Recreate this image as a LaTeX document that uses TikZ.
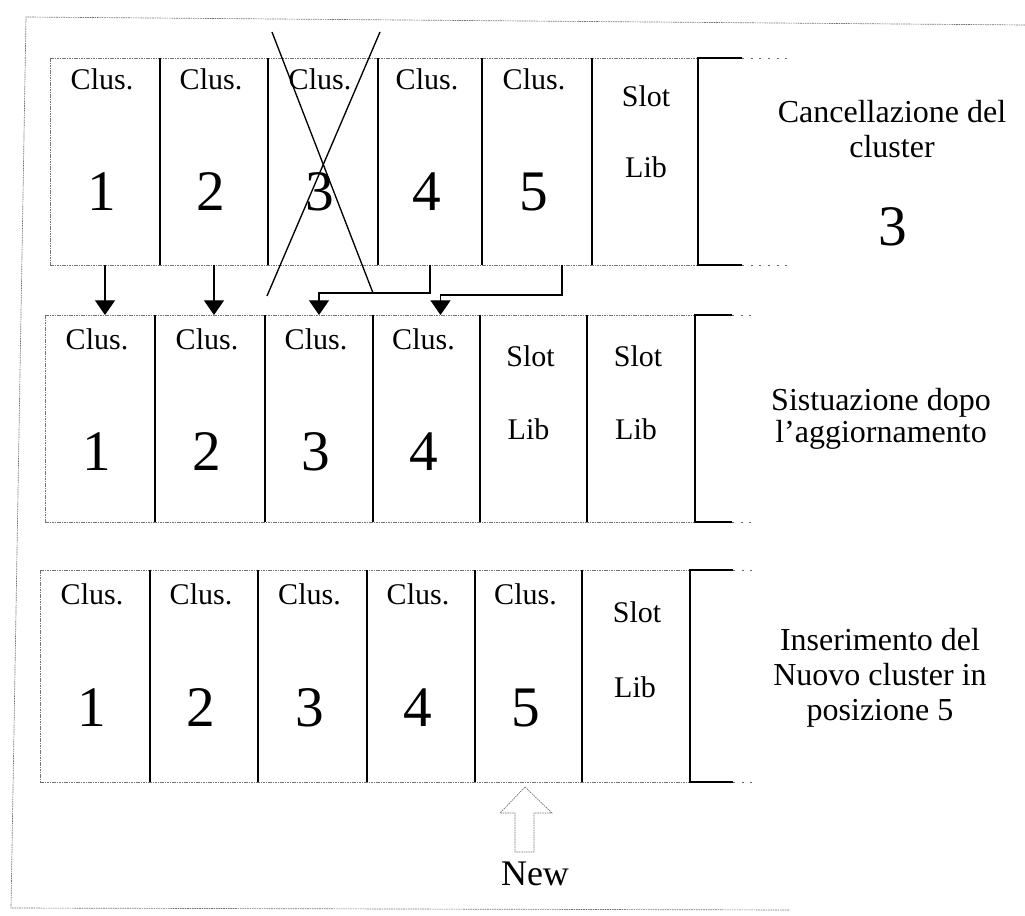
\documentclass[tikz,border=0pt]{standalone}
\usepackage{fontspec}
\setmainfont{Liberation Serif}
\usetikzlibrary{arrows.meta,calc,fit}
\begin{document}
\begin{tikzpicture}[x=0.75pt,y=-0.75pt,
  thindot/.style={draw=black!55, line width=0.5pt, dash pattern=on 1.2pt off 0.6pt},
  sparsedot/.style={draw=black!60, line width=0.6pt, dash pattern=on 1.5pt off 5pt},
  divider/.style={draw=black, line width=1pt},
  bracket/.style={draw=black, line width=0.8pt},
  cellbox/.style={inner sep=0pt, outer sep=0pt, draw=none},
  cltext/.style={font=\fontsize{22.5}{26}\selectfont, inner sep=0pt},
  bigtext/.style={font=\fontsize{43}{48}\selectfont, inner sep=0pt},
  labtext/.style={font=\fontsize{24}{28}\selectfont, inner sep=0pt, anchor=base},
  link/.style={draw=black, line width=1pt, -{Triangle[width=15pt,length=11pt]}},
]
\useasboundingbox (0,0) rectangle (1025,916);

% outer frame
\draw[thindot] (1025,25) -- (26,17) -- (11,908) -- (790,910);

% ---------- cells ----------
\foreach \c/\xa/\xb in {1/50/160,2/160/268,3/268/378,4/378/482,5/482/592,6/592/698}
  \node[cellbox, fit={(\xa,58) (\xb,265)}] (r1c\c) {};
\foreach \c/\xa/\xb in {1/45/155,2/155/265,3/265/373,4/373/480,5/480/587,6/587/695}
  \node[cellbox, fit={(\xa,315) (\xb,522)}] (r2c\c) {};
\foreach \c/\xa/\xb in {1/40/150,2/150/258,3/258/367,4/367/475,5/475/582,6/582/690}
  \node[cellbox, fit={(\xa,570) (\xb,782)}] (r3c\c) {};

% cell frames
\foreach \r/\solid/\ext in {1/44/50,2/37/20,3/43/20}{
  \draw[thindot] (r\r c1.north west) -- (r\r c6.north east);
  \draw[thindot] (r\r c1.south west) -- (r\r c6.south east);
  \draw[thindot] (r\r c1.north west) -- (r\r c1.south west);
  \foreach \c in {1,...,5}
    \draw[divider] (r\r c\c.north east) -- (r\r c\c.south east);
  \draw[bracket] ($(r\r c6.north east)+(\solid,0)$) -- (r\r c6.north east)
        -- (r\r c6.south east) -- ($(r\r c6.south east)+(\solid,0)$);
  \draw[sparsedot] ($(r\r c6.north east)+(\solid,0)$) -- ++(\ext,0);
  \draw[sparsedot] ($(r\r c6.south east)+(\solid,0)$) -- ++(\ext,0);
}

% ---------- texts row 1 ----------
\foreach \c in {1,...,5}{
  \node[cltext] (r1t\c) at ($(r1c\c.north)+(-3,21)$) {Clus.};
  \node[bigtext] (r1n\c) at ($(r1c\c.north)+(-3,134)$) {\c};
}
\node[cltext] (r1s6) at ($(r1c6.north)+(1,38)$) {Slot};
\node[cltext] (r1l6) at ($(r1c6.north)+(1,109)$) {Lib};

% ---------- texts row 2 ----------
\foreach \c in {1,...,4}{
  \node[cltext] (r2t\c) at ($(r2c\c.north)+(-3,24)$) {Clus.};
  \node[bigtext] (r2n\c) at ($(r2c\c.north)+(-3,137)$) {\c};
}
\foreach \c in {5,6}{
  \node[cltext] (r2s\c) at ($(r2c\c.north)+(-3,41)$) {Slot};
  \node[cltext] (r2l\c) at ($(r2c\c.north)+(-5,114)$) {Lib};
}

% ---------- texts row 3 ----------
\foreach \c in {1,...,5}{
  \node[cltext] (r3t\c) at ($(r3c\c.north)+(-3,24)$) {Clus.};
  \node[bigtext] (r3n\c) at ($(r3c\c.north)+(-3,138)$) {\c};
}
\node[cltext] (r3s6) at ($(r3c6.north)+(1,42)$) {Slot};
\node[cltext] (r3l6) at ($(r3c6.north)+(-1,117)$) {Lib};

% ---------- cross on cluster 3 ----------
\draw[line width=1pt] (272,32) -- (373,293);
\draw[line width=1pt] (380,32) -- (267,296);

% ---------- arrows ----------
\draw[link] (r1c1.south) -- (r1c1.south |- r2c1.north);
\draw[link] (r1c2.south) -- (r1c2.south |- r2c2.north);
\draw[link] (r1c4.south) -- ++(0,28) -| (r2c3.north);
\draw[link] ($(r1c5.south)+(25,0)$) -- ++(0,30) -| ($(r2c4.north)+(14,0)$);

% ---------- side labels ----------
\node[labtext] (lab1a) at (892,123) {Cancellazione del};
\node[labtext] (lab1b) at (892,158) {cluster};
\node[bigtext] (lab1c) at (893,227) {3};
\node[labtext] (lab2a) at (881,410) {Sistuazione dopo};
\node[labtext] (lab2b) at (881,442) {l’aggiornamento};
\node[labtext] (lab3a) at (880,650) {Inserimento del};
\node[labtext] (lab3b) at (880,685) {Nuovo cluster in};
\node[labtext] (lab3c) at (880,720) {posizione 5};

% ---------- new arrow ----------
\draw[thindot] (525,787) -- (552,813) -- (534,813) -- (534,852) -- (515,852)
  -- (515,813) -- (500,813) -- cycle;
\node[font=\fontsize{27}{30}\selectfont, inner sep=0pt, anchor=base] (new) at (535,885) {New};
\end{tikzpicture}
\end{document}
